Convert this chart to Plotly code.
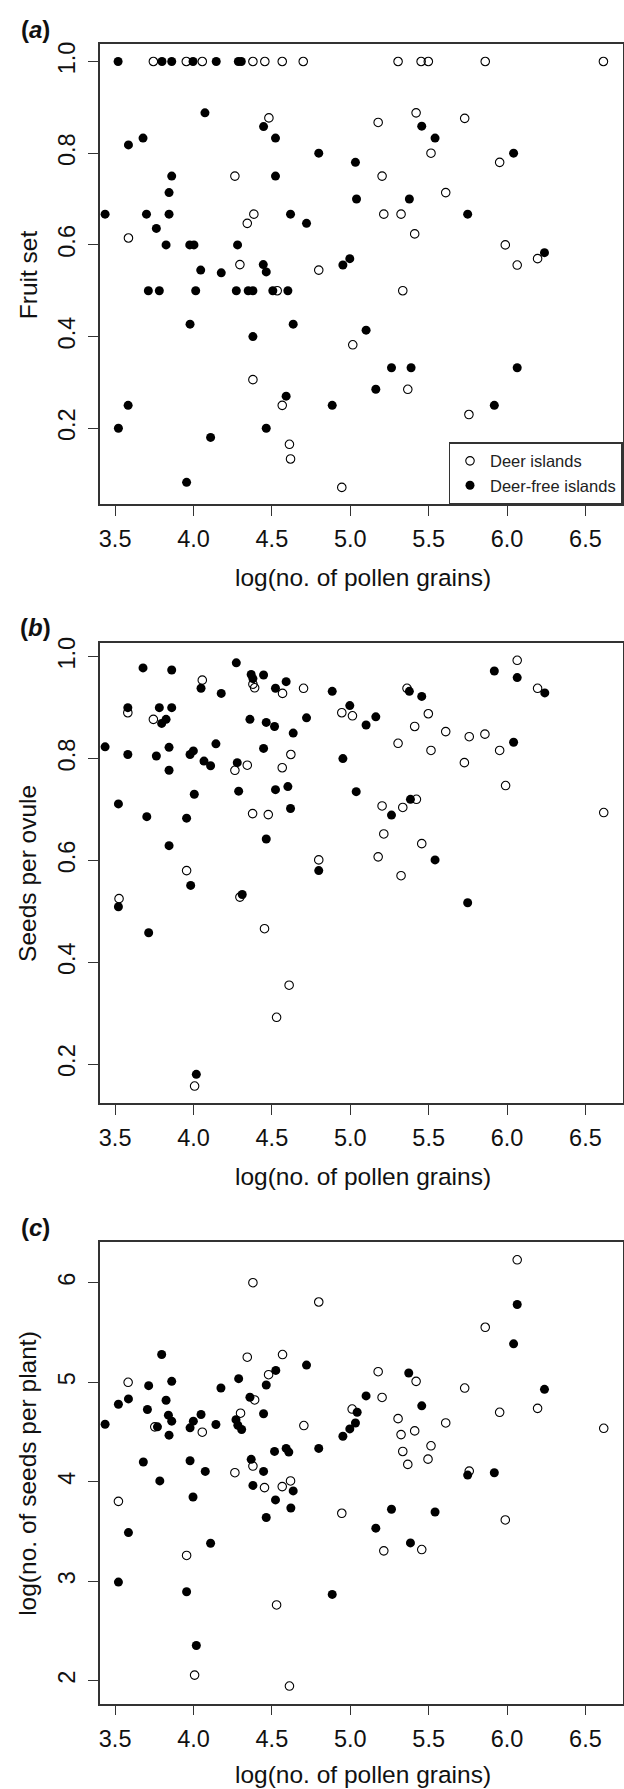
import plotly.graph_objects as go

# ---------------- data ----------------
# Panel (a): Fruit set
a_deer_x = [3.744, 3.954, 4.056, 4.379, 4.455, 4.566, 4.700, 5.305, 5.452, 5.498, 5.861, 6.615,
            4.481, 4.264, 4.385, 4.343, 3.585, 4.296, 4.799, 4.534, 4.379, 4.566, 4.612, 4.619,
            5.420, 5.178, 5.730, 5.515, 5.953, 5.203, 5.609, 5.214, 5.324, 5.411, 5.989, 6.195,
            6.065, 5.335, 5.016, 5.367, 5.757, 4.946]
a_deer_y = [1.0, 1.0, 1.0, 1.0, 1.0, 1.0, 1.0, 1.0, 1.0, 1.0, 1.0, 1.0,
            0.877, 0.750, 0.667, 0.647, 0.615, 0.557, 0.545, 0.500, 0.306, 0.250, 0.165, 0.133,
            0.888, 0.867, 0.876, 0.800, 0.780, 0.750, 0.714, 0.667, 0.667, 0.624, 0.600, 0.570,
            0.556, 0.500, 0.382, 0.285, 0.230, 0.071]
a_free_x = [3.519, 3.799, 3.861, 3.997, 4.145, 4.286, 4.305,
            4.073, 4.447, 4.523, 3.585, 3.678, 4.799, 3.861, 4.523, 3.844, 3.436, 3.700, 3.844,
            4.619, 4.721, 3.763, 3.825, 3.976, 4.003, 4.281, 4.445, 4.464, 4.046, 4.177,
            3.712, 3.782, 4.014, 4.273, 4.349, 4.379, 4.506, 4.602,
            3.978, 4.636, 4.379, 4.591, 3.583, 3.521, 4.464, 4.109, 3.956, 4.885,
            5.456, 5.541, 6.042, 5.033, 5.040, 5.377, 5.749, 6.239, 4.997, 4.953, 5.101,
            5.263, 5.388, 6.065, 5.163, 5.919]
a_free_y = [1.0, 1.0, 1.0, 1.0, 1.0, 1.0, 1.0,
            0.888, 0.858, 0.833, 0.818, 0.833, 0.800, 0.750, 0.750, 0.714, 0.667, 0.667, 0.667,
            0.667, 0.647, 0.636, 0.600, 0.600, 0.600, 0.600, 0.557, 0.541, 0.545, 0.539,
            0.500, 0.500, 0.500, 0.500, 0.500, 0.500, 0.500, 0.500,
            0.427, 0.427, 0.400, 0.270, 0.250, 0.200, 0.200, 0.180, 0.082, 0.250,
            0.859, 0.833, 0.800, 0.780, 0.700, 0.700, 0.667, 0.583, 0.570, 0.556, 0.414,
            0.332, 0.332, 0.332, 0.285, 0.250]

# Panel (b): Seeds per ovule
b_deer_x = [4.056, 4.379, 4.390, 4.568, 4.702, 3.581, 3.744, 4.621, 4.264, 4.343, 4.566,
            4.377, 4.477, 4.799, 3.956, 3.525, 4.296, 4.453, 4.610, 4.530, 4.007,
            6.065, 6.195, 5.362, 4.946, 5.014, 5.498, 5.411, 5.609, 5.759, 5.859, 5.953,
            5.305, 5.515, 5.728, 5.991, 5.203, 5.335, 5.422, 6.617, 5.214, 5.456, 5.178, 5.324]
b_deer_y = [0.954, 0.946, 0.939, 0.928, 0.938, 0.890, 0.877, 0.808, 0.777, 0.787, 0.782,
            0.692, 0.690, 0.601, 0.580, 0.525, 0.528, 0.466, 0.355, 0.292, 0.157,
            0.993, 0.938, 0.938, 0.890, 0.884, 0.888, 0.863, 0.853, 0.843, 0.848, 0.816,
            0.830, 0.816, 0.792, 0.747, 0.707, 0.704, 0.720, 0.694, 0.652, 0.633, 0.607, 0.570]
b_free_x = [3.678, 3.861, 4.273, 4.368, 4.379, 4.447, 4.591, 4.523, 4.048, 4.177, 4.885,
            3.581, 3.782, 3.861, 3.797, 3.825, 4.360, 4.464, 4.517, 4.636, 4.721, 3.436,
            3.581, 3.763, 3.844, 3.844, 3.978, 3.999, 4.143, 4.067, 4.109, 4.279, 4.447,
            4.288, 4.523, 4.602, 4.005, 3.521, 3.702, 3.956, 4.619, 3.844, 4.464, 4.799,
            3.982, 3.521, 4.311, 3.714, 4.018,
            5.919, 6.065, 6.241, 5.377, 5.456, 4.997, 5.163, 5.101, 6.042, 4.953, 5.038,
            5.384, 5.263, 5.541, 5.749]
b_free_y = [0.978, 0.974, 0.988, 0.965, 0.957, 0.964, 0.951, 0.938, 0.938, 0.928, 0.932,
            0.900, 0.900, 0.900, 0.869, 0.877, 0.877, 0.871, 0.863, 0.850, 0.880, 0.823,
            0.808, 0.805, 0.822, 0.777, 0.808, 0.815, 0.829, 0.795, 0.786, 0.792, 0.820,
            0.736, 0.739, 0.745, 0.730, 0.711, 0.686, 0.683, 0.702, 0.629, 0.642, 0.580,
            0.551, 0.509, 0.533, 0.458, 0.180,
            0.972, 0.959, 0.929, 0.932, 0.922, 0.904, 0.882, 0.866, 0.832, 0.800, 0.735,
            0.720, 0.689, 0.601, 0.517]

# Panel (c): log(no. of seeds per plant)
c_deer_x = [4.379, 4.799, 4.343, 4.568, 4.479, 3.583, 4.390, 4.300, 3.753, 4.056, 4.704,
            4.379, 4.264, 4.619, 4.453, 4.566, 3.521, 3.956, 4.530, 4.007, 4.612,
            6.065, 5.861, 5.178, 5.420, 5.730, 5.203, 5.012, 6.195, 5.953, 5.305, 5.609,
            5.411, 5.324, 6.617, 5.515, 5.335, 5.496, 5.367, 5.759, 4.946, 5.989, 5.214, 5.456]
c_deer_y = [6.001, 5.807, 5.252, 5.279, 5.076, 5.000, 4.822, 4.689, 4.552, 4.498, 4.565,
            4.158, 4.091, 4.008, 3.941, 3.951, 3.803, 3.259, 2.761, 2.056, 1.946,
            6.231, 5.553, 5.106, 5.009, 4.942, 4.847, 4.731, 4.738, 4.698, 4.634, 4.591,
            4.511, 4.474, 4.537, 4.361, 4.304, 4.227, 4.174, 4.107, 3.683, 3.616, 3.305, 3.318]
c_free_x = [3.797, 4.721, 4.525, 4.464, 4.288, 4.175, 3.714, 3.861, 3.585, 3.521, 3.825,
            4.360, 3.706, 4.447, 3.840, 3.861, 4.048, 3.999, 3.978, 3.436, 3.770, 3.844,
            4.143, 4.271, 4.283, 4.307, 4.799, 4.517, 4.591, 4.608, 3.680, 3.978, 4.368,
            4.075, 4.447, 3.785, 4.379, 4.636, 3.997, 4.523, 4.621, 4.464, 3.585, 4.109,
            3.521, 3.956, 4.018, 4.885,
            6.065, 6.042, 5.373, 6.239, 5.101, 5.456, 5.044, 5.033, 4.997, 4.953, 5.749,
            5.919, 5.263, 5.541, 5.163, 5.384]
c_free_y = [5.279, 5.173, 5.119, 4.972, 5.036, 4.942, 4.966, 5.009, 4.833, 4.779, 4.819,
            4.849, 4.726, 4.683, 4.669, 4.609, 4.676, 4.609, 4.542, 4.578, 4.552, 4.468,
            4.575, 4.624, 4.568, 4.525, 4.335, 4.305, 4.335, 4.298, 4.198, 4.211, 4.225,
            4.104, 4.104, 4.008, 3.963, 3.908, 3.847, 3.817, 3.736, 3.640, 3.489, 3.382,
            2.991, 2.894, 2.353, 2.867,
            5.782, 5.386, 5.093, 4.929, 4.863, 4.763, 4.698, 4.591, 4.531, 4.457, 4.067,
            4.090, 3.723, 3.696, 3.533, 3.385]

x_ticks = [3.5, 4.0, 4.5, 5.0, 5.5, 6.0, 6.5]
x_tick_labels = ["3.5", "4.0", "4.5", "5.0", "5.5", "6.0", "6.5"]
ab_ticks = [0.2, 0.4, 0.6, 0.8, 1.0]
ab_tick_labels = ["0.2", "0.4", "0.6", "0.8", "1.0"]
c_ticks = [2, 3, 4, 5, 6]
c_tick_labels = ["2", "3", "4", "5", "6"]

panel_labels = ["<b>(<i>a</i>)</b>", "<b>(<i>b</i>)</b>", "<b>(<i>c</i>)</b>"]
y_titles = ["Fruit set", "Seeds per ovule", "log(no. of seeds per plant)"]
x_title = "log(no. of pollen grains)"
series_names = ["Deer islands", "Deer-free islands"]

# ---------------- layout geometry (pixels) ----------------
W, H = 624, 1789
FONT = "Arial, 'Liberation Sans', sans-serif"
box_left, box_right = 99, 622.7
boxes = [(38.3, 500.0), (638.7, 1101.0), (1240.3, 1703.3)]  # (top, bottom)
y_ranges = [[0.0341, 1.0378], [0.1231, 1.0278], [1.7695, 6.4088]]
x_range = [3.4025, 6.738]

def py(v):
    return 1 - v / H

def px(v):
    return v / W

fig = go.Figure()

data = [(a_deer_x, a_deer_y, a_free_x, a_free_y),
        (b_deer_x, b_deer_y, b_free_x, b_free_y),
        (c_deer_x, c_deer_y, c_free_x, c_free_y)]

line_col = "#333333"
for i, (dx, dy, fx, fy) in enumerate(data):
    sfx = "" if i == 0 else str(i + 1)
    fig.add_trace(go.Scatter(x=dx, y=dy, mode="markers", name=series_names[0],
                             xaxis="x" + sfx, yaxis="y" + sfx, showlegend=(i == 0),
                             marker=dict(symbol="circle-open", size=8.5, color="black",
                                         line=dict(width=1.1, color="black"))))
    fig.add_trace(go.Scatter(x=fx, y=fy, mode="markers", name=series_names[1],
                             xaxis="x" + sfx, yaxis="y" + sfx, showlegend=(i == 0),
                             marker=dict(symbol="circle", size=9, color="black",
                                         line=dict(width=0))))

layout = dict(
    width=W, height=H, margin=dict(l=0, r=0, t=0, b=0),
    plot_bgcolor="white", paper_bgcolor="white",
    font=dict(family=FONT, color="#111111"),
    legend=dict(x=px(box_right), y=py(boxes[0][1]), xanchor="right", yanchor="bottom",
                bordercolor=line_col, borderwidth=1.3, bgcolor="white",
                font=dict(size=16.5, family=FONT, color="#222222"),
                itemwidth=30, tracegroupgap=0),
)

annotations = []
for i, (top, bot) in enumerate(boxes):
    sfx = "" if i == 0 else str(i + 1)
    ticks_y = ab_ticks if i < 2 else c_ticks
    ticks_yl = ab_tick_labels if i < 2 else c_tick_labels
    layout["xaxis" + sfx] = dict(
        domain=[px(box_left), px(box_right)], anchor="y" + sfx, range=x_range,
        tickvals=x_ticks, ticktext=x_tick_labels, ticks="outside", ticklen=10,
        tickwidth=1.3, tickcolor=line_col, showline=True, linecolor=line_col,
        linewidth=1.6, mirror=True, showgrid=False, zeroline=False,
        tickfont=dict(size=23.5, family=FONT, color="#111111"), ticklabelstandoff=3)
    layout["yaxis" + sfx] = dict(
        domain=[py(bot), py(top)], anchor="x" + sfx, range=y_ranges[i],
        tickvals=ticks_y, ticktext=ticks_yl, ticks="outside", ticklen=10,
        tickwidth=1.3, tickcolor=line_col, showline=True, linecolor=line_col,
        linewidth=1.6, mirror=True, showgrid=False, zeroline=False, tickangle=-90,
        tickfont=dict(size=23.5, family=FONT, color="#111111"), ticklabelstandoff=4)
    # x-axis title
    if i < 2:
        xt_y, xt_anchor = py(bot + 73), "middle"
    else:
        xt_y, xt_anchor = 0.0, "bottom"
    annotations.append(dict(text=x_title, x=px((box_left + box_right) / 2 + 2), y=xt_y,
                            xref="paper", yref="paper", showarrow=False,
                            xanchor="center", yanchor=xt_anchor, borderpad=0,
                            font=dict(size=24.5, family=FONT, color="#111111")))
    # y-axis title
    annotations.append(dict(text=y_titles[i], x=px(27), y=py((top + bot) / 2),
                            xref="paper", yref="paper", showarrow=False, textangle=-90,
                            xanchor="center", yanchor="middle",
                            font=dict(size=24.5, family=FONT, color="#111111")))
    # panel label
    annotations.append(dict(text=panel_labels[i], x=px(35), y=py(top - 15),
                            xref="paper", yref="paper", showarrow=False,
                            xanchor="center", yanchor="middle",
                            font=dict(size=24, family=FONT, color="#111111")))

layout["annotations"] = annotations
fig.update_layout(**layout)
fig.write_html("out.html")
